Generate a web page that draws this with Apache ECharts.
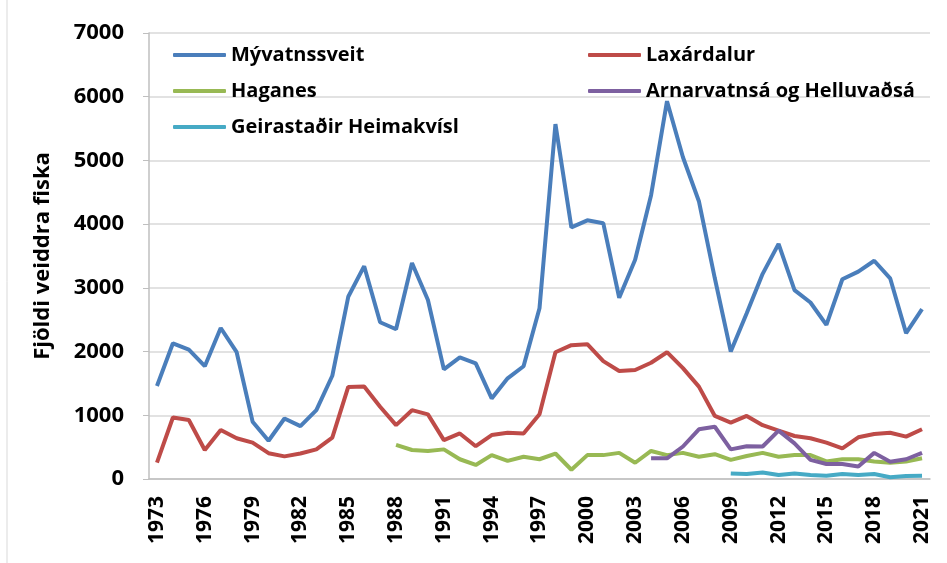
<!DOCTYPE html>
<html>
<head>
<meta charset="utf-8">
<script src="https://cdn.jsdelivr.net/npm/echarts@6/dist/echarts.min.js"></script>
<style>
  html, body { margin: 0; padding: 0; background: #fff; }
  #chart { width: 947px; height: 563px; }
</style>
</head>
<body>
<div id="chart"></div>
<script>
// ár 1973 - 2021
var years = [];
for (var y = 1973; y <= 2021; y++) years.push(String(y));

var myvatnssveit = [1460, 2130, 2030, 1770, 2370, 1990, 900, 600, 950, 830, 1080, 1620, 2860, 3340, 2460, 2350,
    3390, 2810, 1720, 1910, 1815, 1265, 1580, 1770, 2680, 5570, 3950, 4060, 4015, 2845, 3440, 4455, 5930,
    5050, 4360, 3150, 2000, 2600, 3220, 3690, 2965, 2770, 2420, 3135, 3255, 3425, 3150, 2290, 2665];
var laxardalur = [256, 965, 925, 455, 770, 640, 570, 405, 355, 400, 465, 650, 1445, 1450, 1135, 845,
    1080, 1015, 610, 715, 515, 690, 725, 715, 1015, 1990, 2100, 2115, 1850, 1695, 1710, 1825, 1990,
    1740, 1450, 990, 885, 990, 845, 760, 675, 640, 570, 480, 655, 705, 725, 665, 780];
var haganes = [null, null, null, null, null, null, null, null, null, null, null, null, null, null, null, 535,
    455, 440, 465, 310, 220, 375, 285, 350, 310, 400, 145, 375, 375, 410, 255, 440, 375,
    410, 350, 390, 300, 360, 410, 350, 375, 375, 275, 310, 310, 275, 255, 275, 325];
var arnarvatnsa = [null, null, null, null, null, null, null, null, null, null, null, null, null, null, null, null,
    null, null, null, null, null, null, null, null, null, null, null, null, null, null, null, 325, 325,
    510, 780, 820, 465, 515, 510, 760, 560, 300, 235, 235, 195, 410, 270, 310, 410];
var geirastadir = [null, null, null, null, null, null, null, null, null, null, null, null, null, null, null, null,
    null, null, null, null, null, null, null, null, null, null, null, null, null, null, null, null, null,
    null, null, null, 88, 78, 102, 62, 88, 62, 52, 78, 62, 78, 28, 48, 52];

var seriesNames = ['Mývatnssveit', 'Laxárdalur', 'Haganes', 'Arnarvatnsá og Helluvaðsá', 'Geirastaðir Heimakvísl'];
var seriesColors = ['#4a7ebb', '#be4b48', '#98b954', '#7d60a0', '#46aac5'];
var seriesData = [myvatnssveit, laxardalur, haganes, arnarvatnsa, geirastadir];

var font = '"Open Sans", "Liberation Sans", sans-serif';

var chart = echarts.init(document.getElementById('chart'));

var series = seriesNames.map(function (name, i) {
    return {
        name: name,
        type: 'line',
        data: seriesData[i],
        showSymbol: false,
        symbol: 'none',
        connectNulls: false,
        lineStyle: { width: 4, color: seriesColors[i] },
        itemStyle: { color: seriesColors[i] }
    };
});

var legendText = { fontFamily: font, fontWeight: 'bold', fontSize: 20, color: '#000' };
var legendBase = {
    orient: 'vertical',
    top: 45,
    padding: 0,
    icon: 'roundRect',
    itemWidth: 53,
    itemHeight: 4,
    itemGap: 16,
    textStyle: legendText
};

var option = {
    animation: false,
    backgroundColor: '#fff',
    grid: { left: 149, right: 17, top: 33, bottom: 84 },
    legend: [
        Object.assign({}, legendBase, { left: 173, data: ['Mývatnssveit', 'Haganes', 'Geirastaðir Heimakvísl'] }),
        Object.assign({}, legendBase, { left: 588, data: ['Laxárdalur', 'Arnarvatnsá og Helluvaðsá'] })
    ],
    graphic: [{
        type: 'line',
        shape: { x1: 7, y1: 0, x2: 7, y2: 563 },
        style: { stroke: '#d9d9d9', lineWidth: 1 }
    }],
    xAxis: {
        type: 'category',
        data: years,
        boundaryGap: true,
        axisLine: { lineStyle: { color: '#bfbfbf', width: 1.5 } },
        axisTick: { show: false },
        axisLabel: {
            interval: 2,
            rotate: 90,
            margin: 17,
            fontFamily: font,
            fontWeight: 'bold',
            fontSize: 21,
            color: '#000'
        }
    },
    yAxis: {
        type: 'value',
        min: 0,
        max: 7000,
        interval: 1000,
        name: 'Fjöldi veiddra fiska',
        nameLocation: 'middle',
        nameGap: 95,
        nameTextStyle: { fontFamily: font, fontWeight: 'bold', fontSize: 22, color: '#000' },
        axisLine: { show: true, lineStyle: { color: '#bfbfbf', width: 1.5 } },
        axisTick: { show: true, length: 6, lineStyle: { color: '#bfbfbf' } },
        splitLine: { lineStyle: { color: '#d9d9d9', width: 1.5 } },
        axisLabel: {
            margin: 25,
            formatter: function (v) { return String(v); },
            fontFamily: font,
            fontWeight: 'bold',
            fontSize: 22,
            color: '#000'
        }
    },
    series: series
};

chart.setOption(option);
</script>
</body>
</html>
